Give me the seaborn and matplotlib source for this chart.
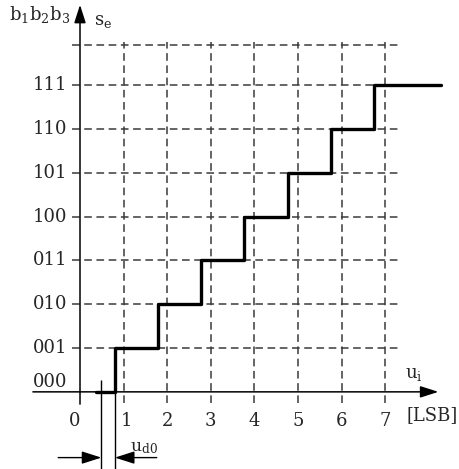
import numpy as np
import pandas as pd
import matplotlib
matplotlib.use('Agg')
import matplotlib.pyplot as plt
import seaborn as sns

sns.set_style('white')
plt.rcParams['font.family'] = ['DejaVu Serif', 'DejaVu Sans']
plt.rcParams['mathtext.fontset'] = 'dejavuserif'

# staircase (transfer characteristic of a 3-bit ADC, input in LSB)
step_u = [0.37, 0.80, 1.79, 2.78, 3.77, 4.76, 5.75, 6.74, 8.27]
step_code = [0, 1, 2, 3, 4, 5, 6, 7, 7]
codes = ['000', '001', '010', '011', '100', '101', '110', '111']
u_ticks = [0, 1, 2, 3, 4, 5, 6, 7]
grid_u = [1, 2, 3, 4, 5, 6, 7]
grid_levels = [1, 2, 3, 4, 5, 6, 7, 7.92]
ud0_left, ud0_right = 0.49, 0.80

df = pd.DataFrame({'u': step_u, 'code': step_code})

fig = plt.figure(figsize=(4.6, 4.69), dpi=100)
ax = fig.add_axes([0, 0, 1, 1])

# dashed grid
ax.vlines(grid_u, -0.25, 7.98, colors='#3a3a3a', linewidth=1.1,
          linestyles=(0, (5, 3)), zorder=1)
ax.hlines(grid_levels, -0.18, 7.35, colors='#3a3a3a', linewidth=1.1,
          linestyles=(0, (5, 3)), zorder=1)

# axes with arrows
axis_arrow = dict(arrowstyle='-|>,head_length=1.0,head_width=0.32',
                  mutation_scale=11, color='black', lw=1.1,
                  shrinkA=0, shrinkB=0)
ax.annotate('', xy=(8.22, 0), xytext=(-1.08, 0), arrowprops=axis_arrow, zorder=3)
ax.annotate('', xy=(0, 8.83), xytext=(0, -0.28), arrowprops=axis_arrow, zorder=3)

# staircase
sns.lineplot(data=df, x='u', y='code', drawstyle='steps-post', color='black',
             linewidth=2.4, ax=ax, zorder=4, legend=False)
ax.set_xlim(-1.835, 8.716)
ax.set_ylim(-1.76, 8.94)
ax.axis('off')

# ud0 dimension
dim_arrow = dict(arrowstyle='-|>,head_length=1.0,head_width=0.32',
                 mutation_scale=12, color='black', lw=1.0,
                 shrinkA=0, shrinkB=0)
ax.vlines([ud0_left], -1.75, 0.27, colors='black', linewidth=1.0, zorder=3)
ax.vlines([ud0_right], -1.75, 0, colors='black', linewidth=1.0, zorder=3)
ax.annotate('', xy=(ud0_left, -1.5), xytext=(-0.5, -1.5), arrowprops=dim_arrow)
ax.annotate('', xy=(ud0_right, -1.5), xytext=(1.76, -1.5), arrowprops=dim_arrow)
ax.text(1.14, -1.28, r'u$_{\rm d0}$', fontsize=12.5, ha='left', va='center')

# code labels
fs = 13
for i, c in enumerate(codes):
    lvl = 0.23 if i == 0 else i
    ax.text(-0.29, lvl, c, fontsize=fs, ha='right', va='center')

# input ticks
for u in u_ticks:
    pos = -0.12 if u == 0 else u + (0.06 if u == 1 else 0)
    ax.text(pos, -0.67, str(u), fontsize=fs, ha='center', va='center')

ax.text(7.45, 0.4, r'u$_{\rm i}$', fontsize=fs, ha='left', va='center')
ax.text(7.5, -0.53, '[LSB]', fontsize=fs, ha='left', va='center')
ax.text(-0.22, 8.6, r'b$_1$b$_2$b$_3$', fontsize=fs, ha='right', va='center')
ax.text(0.33, 8.45, r's$_{\rm e}$', fontsize=fs, ha='left', va='center')

fig.savefig('out.png', dpi=100)
